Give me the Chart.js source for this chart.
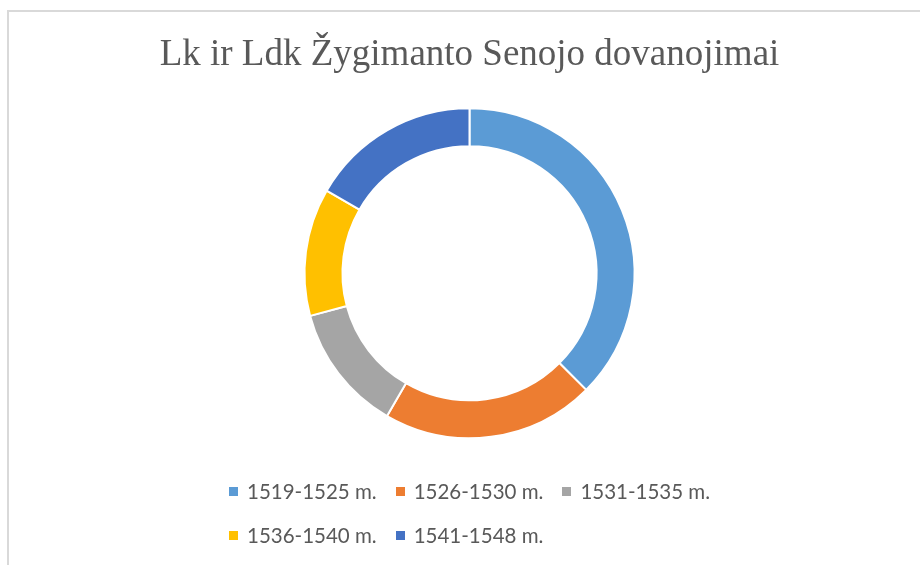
<!DOCTYPE html>
<html>
<head>
<meta charset="utf-8">
<script src="https://cdn.jsdelivr.net/npm/chart.js@4/dist/chart.umd.min.js"></script>
<style>
    body { margin: 0; background: #fff; overflow: hidden; }
    #frame {
        position: absolute; left: 7px; top: 10px;
        width: 1000px; height: 1000px;
        border: 2px solid #d9d9d9;
    }
    #wrap { position: absolute; left: 0; top: 0; width: 920px; height: 565px; }
    #legend {
        position: absolute; left: 229px; top: 469px; width: 520px;
        display: flex; flex-wrap: wrap;
        font-family: Lato, "Open Sans", sans-serif; font-size: 20.5px; color: #595959;
    }
    #legend .item { display: flex; align-items: center; height: 44px; margin-right: 19px; }
    #legend .box { width: 9px; height: 9px; margin-right: 9px; }
</style>
</head>
<body>
<div id="frame"></div>
<div id="wrap"><canvas id="donut" width="920" height="565"></canvas></div>
<div id="legend"></div>
<script>
const title = 'Lk ir Ldk Žygimanto Senojo dovanojimai';
const periods = ['1519-1525 m.', '1526-1530 m.', '1531-1535 m.', '1536-1540 m.', '1541-1548 m.'];
const grants = [9, 5, 3, 3, 4];
const colors = ['#5b9bd5', '#ed7d31', '#a5a5a5', '#ffc000', '#4472c4'];

// legend (Excel style: rows start at the same x)
const legend = document.getElementById('legend');
periods.forEach((p, i) => {
    const item = document.createElement('div');
    item.className = 'item';
    const box = document.createElement('span');
    box.className = 'box';
    box.style.background = colors[i];
    const txt = document.createElement('span');
    txt.textContent = p;
    item.appendChild(box);
    item.appendChild(txt);
    legend.appendChild(item);
});

const ctx = document.getElementById('donut').getContext('2d');
new Chart(ctx, {
    type: 'doughnut',
    data: {
        labels: periods,
        datasets: [{
            data: grants,
            backgroundColor: colors,
            borderColor: '#ffffff',
            borderWidth: 2,
            radius: 165
        }]
    },
    options: {
        responsive: false,
        animation: false,
        cutout: '77%',
        layout: { padding: { left: 19, right: 0, top: 0, bottom: 96 } },
        plugins: {
            legend: { display: false },
            tooltip: { enabled: false },
            title: {
                display: true,
                text: title,
                color: '#595959',
                font: { family: '"Liberation Serif", "Times New Roman", serif', size: 37, weight: 'normal' },
                padding: { top: 33, bottom: 0 }
            }
        }
    }
});
</script>
</body>
</html>
